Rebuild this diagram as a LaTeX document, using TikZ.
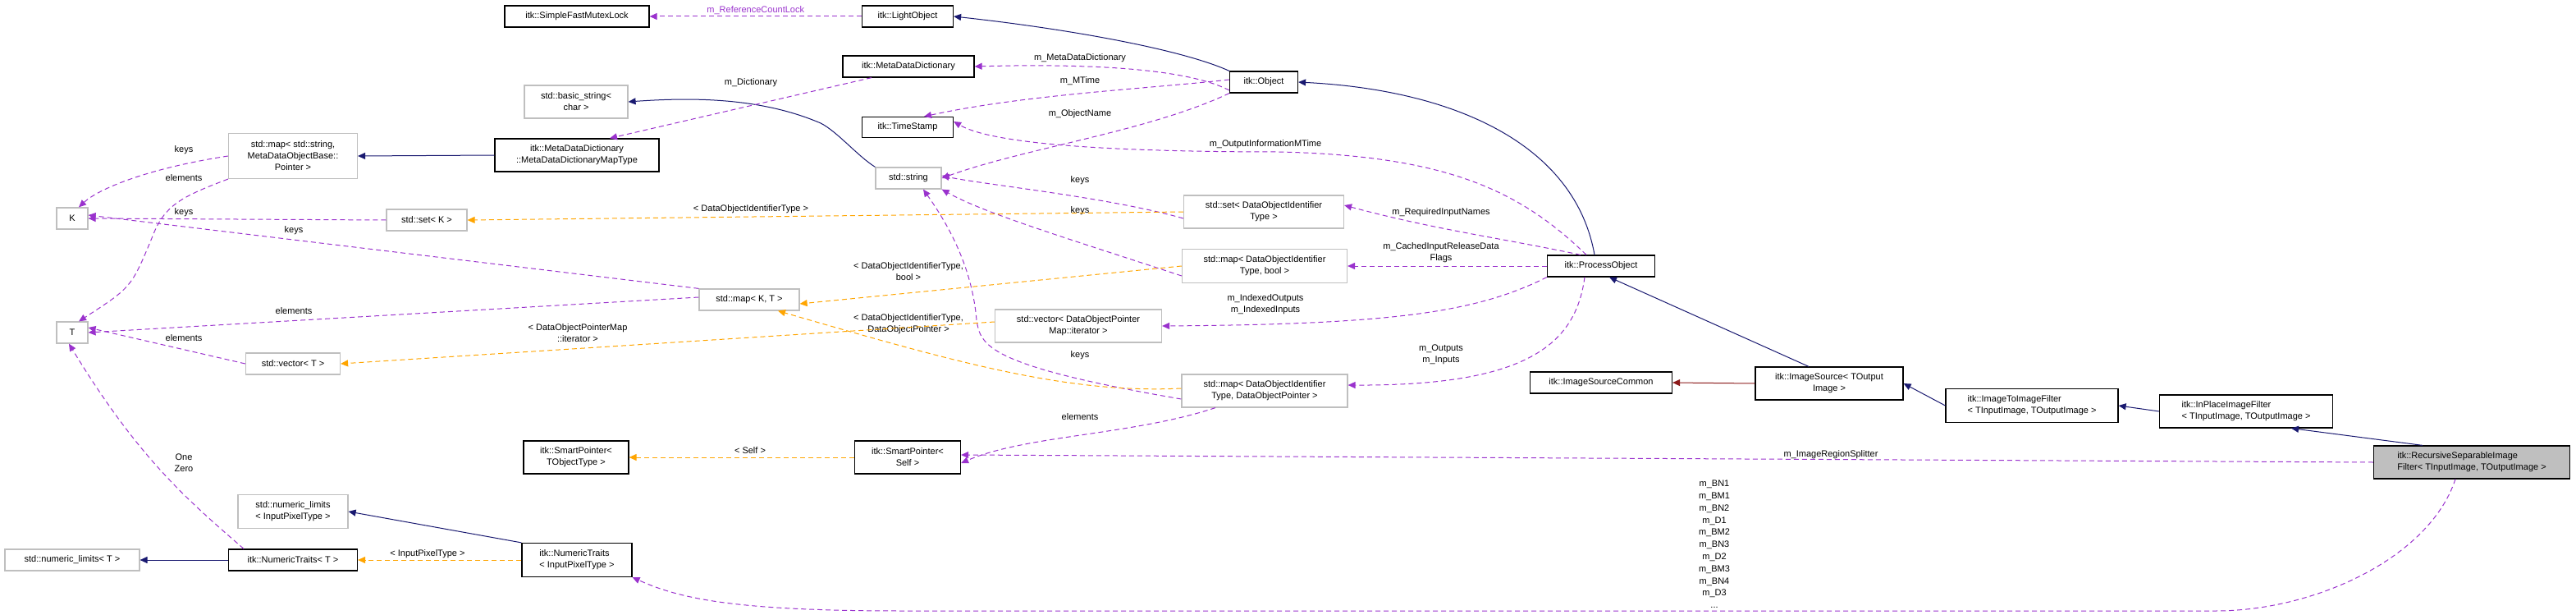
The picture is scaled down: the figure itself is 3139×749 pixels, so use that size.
\documentclass[tikz,border=0pt]{standalone}
\usepackage{fontspec}
\setmainfont{Liberation Sans}
\usetikzlibrary{arrows.meta}
\definecolor{pur}{HTML}{9A32CD}
\definecolor{org}{HTML}{FFA500}
\definecolor{mblue}{HTML}{191970}
\definecolor{fbrick}{HTML}{8B1A1A}
\definecolor{gbord}{HTML}{BFBFBF}
\begin{document}
\begin{tikzpicture}[x=1pt,y=-1pt,font=\fontsize{11}{14}\selectfont,
  box/.style={draw=black,line width=1.2pt,inner sep=0pt,align=center},
  gbox/.style={draw=gbord,line width=1.2pt,inner sep=0pt,align=center},
  lbl/.style={inner sep=0pt,align=center},
  tip/.style={-{Triangle[length=9pt,width=8pt]}},
  mem/.style={tip,pur,dashed,line width=1pt,dash pattern=on 6pt off 4pt},
  tmpl/.style={tip,org,dashed,line width=1pt,dash pattern=on 6pt off 4pt},
  inh/.style={tip,mblue,line width=1pt},
  prot/.style={tip,fbrick,line width=1pt}]
\useasboundingbox (0,0) rectangle (3139,749);
% nodes
\node[box,minimum width=176,minimum height=26] (sfml) at (703,20) {itk::SimpleFastMutexLock};
\node[box,minimum width=111,minimum height=26] (lo) at (1106,20) {itk::LightObject};
\node[box,minimum width=160,minimum height=26] (mdd) at (1107,81) {itk::MetaDataDictionary};
\node[gbox,minimum width=126,minimum height=40] (bs) at (702,124) {std::basic\_string\textless\\char \textgreater};
\node[box,minimum width=111,minimum height=25] (ts) at (1106,155) {itk::TimeStamp};
\node[box,minimum width=200,minimum height=40] (mddm) at (703,189) {itk::MetaDataDictionary\\::MetaDataDictionaryMapType};
\node[gbox,minimum width=157,minimum height=55] (ms) at (357,190) {std::map\textless{} std::string,\\MetaDataObjectBase::\\Pointer \textgreater};
\node[box,minimum width=83,minimum height=26] (obj) at (1540,100) {itk::Object};
\node[gbox,minimum width=80,minimum height=26] (str) at (1107,217) {std::string};
\node[gbox,minimum width=38,minimum height=26] (K) at (88,266) {K};
\node[gbox,minimum width=98,minimum height=26] (setK) at (520,268) {std::set\textless{} K \textgreater};
\node[gbox,minimum width=195,minimum height=40] (setD) at (1540,258) {std::set\textless{} DataObjectIdentifier\\Type \textgreater};
\node[gbox,minimum width=201,minimum height=41] (mapB) at (1541,324) {std::map\textless{} DataObjectIdentifier\\Type, bool \textgreater};
\node[box,minimum width=131,minimum height=26] (po) at (1951,324) {itk::ProcessObject};
\node[gbox,minimum width=122,minimum height=26] (mapKT) at (913,365) {std::map\textless{} K, T \textgreater};
\node[gbox,minimum width=203,minimum height=40] (vecD) at (1314,397) {std::vector\textless{} DataObjectPointer\\Map::iterator \textgreater};
\node[gbox,minimum width=38,minimum height=26] (T) at (88,405) {T};
\node[gbox,minimum width=115,minimum height=26] (vecT) at (357,443) {std::vector\textless{} T \textgreater};
\node[box,minimum width=173,minimum height=26] (isc) at (1951,466) {itk::ImageSourceCommon};
\node[gbox,minimum width=202,minimum height=40] (mapP) at (1541,476) {std::map\textless{} DataObjectIdentifier\\Type, DataObjectPointer \textgreater};
\node[box,minimum width=180,minimum height=40] (is) at (2229,467) {itk::ImageSource\textless{} TOutput\\Image \textgreater};
\node[box,minimum width=210,minimum height=41,align=left] (iti) at (2476,494) {itk::ImageToImageFilter\\\textless{} TInputImage, TOutputImage \textgreater};
\node[box,minimum width=211,minimum height=40,align=left] (ip) at (2737,501) {itk::InPlaceImageFilter\\\textless{} TInputImage, TOutputImage \textgreater};
\node[box,minimum width=129,minimum height=40] (sps) at (1106,557) {itk::SmartPointer\textless\\Self \textgreater};
\node[box,minimum width=128,minimum height=40] (spt) at (702,557) {itk::SmartPointer\textless\\TObjectType \textgreater};
\node[box,fill=gbord,minimum width=239,minimum height=40,align=left] (rec) at (3012,563) {itk::RecursiveSeparableImage\\Filter\textless{} TInputImage, TOutputImage \textgreater};
\node[gbox,minimum width=134,minimum height=41] (nlI) at (357,623) {std::numeric\_limits\\\textless{} InputPixelType \textgreater};
\node[box,minimum width=157,minimum height=26] (ntT) at (357,682) {itk::NumericTraits\textless{} T \textgreater};
\node[gbox,minimum width=164,minimum height=26] (nlT) at (88,682) {std::numeric\_limits\textless{} T \textgreater};
\node[box,minimum width=134,minimum height=41,align=left] (ntI) at (703,682) {itk::NumericTraits\\\textless{} InputPixelType \textgreater};
% inheritance
\draw[inh] (obj.north west) .. controls (1440,60) and (1300,35) .. (lo.east);
\draw[inh] ([xshift=-8]po.north) .. controls (1920,180) and (1780,110) .. (obj.east);
\draw[inh] ([xshift=-25]is.north) -- ([xshift=10]po.south);
\draw[inh] (iti.west) -- (is.east);
\draw[inh] (ip.west) -- (iti.east);
\draw[inh] ([xshift=-60]rec.north) -- ([xshift=55]ip.south);
\draw[inh] (str.north west) .. controls (1045,190) and (1020,160) .. (1000,150) .. controls (930,120) and (850,118) .. (bs.east);
\draw[inh] (mddm.west) -- (ms.east);
\draw[inh] (ntT.west) -- (nlT.east);
\draw[inh] (ntI.north west) -- (nlI.east);
\draw[prot] (is.west) -- (isc.east);
% members
\draw[mem] (lo.west) -- (sfml.east) node[lbl,midway,above=2pt] (l1) {m\_ReferenceCountLock};
\draw[mem] ([xshift=-45]mdd.south) -- ([xshift=40]mddm.north);
\node[lbl] (l2) at (915,101) {m\_Dictionary};
\draw[mem] (ms.west) .. controls (180,205) and (120,230) .. ([xshift=8]K.north);
\node[lbl] (l3) at (224,183) {keys};
\draw[mem] (ms.south west) .. controls (220,240) and (200,250) .. (185,290) .. controls (160,350) .. ([xshift=8]T.north);
\node[lbl] (l4) at (224,217) {elements};
\draw[mem] (setK.west) -- (K.east);
\node[lbl] (l5) at (224,259) {keys};
\draw[mem] (mapKT.north west) -- ([yshift=4]K.east);
\node[lbl] (l6) at (358,281) {keys};
\draw[mem] ([yshift=3]mapKT.west) -- (T.east);
\node[lbl] (l7) at (358,379) {elements};
\draw[mem] (vecT.west) -- ([yshift=6]T.east);
\node[lbl] (l8) at (224,412) {elements};
\draw[mem] ([yshift=-10]obj.west) .. controls (1440,80) and (1300,78) .. (mdd.east);
\node[lbl] (l9) at (1316,71) {m\_MetaDataDictionary};
\draw[mem] ([yshift=3]obj.west) .. controls (1400,108) and (1250,115) .. ([xshift=20]ts.north);
\node[lbl] (l10) at (1316,99) {m\_MTime};
\draw[mem] (obj.south west) .. controls (1400,160) and (1250,180) .. (str.east);
\node[lbl] (l11) at (1316,139) {m\_ObjectName};
\draw[mem] ([xshift=-18]po.north) .. controls (1850,230) and (1760,190) .. (1560,185) .. controls (1300,185) and (1200,170) .. ([yshift=7]ts.east);
\node[lbl] (l12) at (1542,176) {m\_OutputInformationMTime};
\draw[mem] ([xshift=-25]po.north) .. controls (1830,290) and (1750,280) .. ([yshift=8]setD.east);
\node[lbl] (l13) at (1756,259) {m\_RequiredInputNames};
\draw[mem] (po.west) -- (mapB.east);
\node[lbl] (l14) at (1756,308) {m\_CachedInputReleaseData\\Flags};
\draw[mem] (po.south west) .. controls (1800,380) and (1700,395) .. (vecD.east);
\node[lbl] (l15) at (1542,371) {m\_IndexedOutputs\\m\_IndexedInputs};
\draw[mem] ([xshift=-20]po.south) .. controls (1920,420) and (1860,470) .. ([yshift=7]mapP.east);
\node[lbl] (l16) at (1756,432) {m\_Outputs\\m\_Inputs};
\draw[mem] ([yshift=-8]setD.west) .. controls (1350,240) and (1200,225) .. ([yshift=3]str.east);
\node[lbl] (l17) at (1316,220) {keys};
\draw[mem] ([yshift=-12]mapB.west) .. controls (1300,290) and (1200,260) .. (str.south east);
\node[lbl] (l18) at (1316,257) {keys};
\draw[mem] ([yshift=-10]mapP.west) .. controls (1200,445) and (1195,420) .. (1190,390) .. controls (1185,330) and (1160,280) .. ([xshift=18]str.south);
\node[lbl] (l19) at (1316,433) {keys};
\draw[mem] ([xshift=-60]mapP.south) .. controls (1380,530) and (1250,530) .. ([yshift=-7]sps.east);
\node[lbl] (l20) at (1316,508) {elements};
\draw[mem] (rec.west) -- ([yshift=3]sps.east);
\node[lbl] (l21) at (2231,554) {m\_ImageRegionSplitter};
\draw[mem] ([xshift=-20]rec.south) .. controls (2960,680) and (2820,744) .. (2700,744) -- (1100,744) .. controls (900,744) and (830,730) .. (ntI.south east);
\node[lbl,font=\fontsize{11}{14.8}\selectfont] (l22) at (2089,663) {m\_BN1\\m\_BM1\\m\_BN2\\m\_D1\\m\_BM2\\m\_BN3\\m\_D2\\m\_BM3\\m\_BN4\\m\_D3\\...};
\draw[mem] ([xshift=-60]ntT.north) .. controls (230,610) and (170,560) .. ([xshift=-4]T.south);
\node[lbl] (l23) at (224,564) {One\\Zero};
% templates
\draw[tmpl] (setD.west) -- (setK.east);
\node[lbl] (t1) at (915,255) {\textless{} DataObjectIdentifierType \textgreater};
\draw[tmpl] (mapB.west) -- ([yshift=-5]mapKT.east);
\node[lbl] (t2) at (1107,331) {\textless{} DataObjectIdentifierType,\\bool \textgreater};
\draw[tmpl] ([yshift=3]mapP.west) .. controls (1300,480) and (1160,440) .. ([xshift=35]mapKT.south);
\node[lbl] (t3) at (1107,395) {\textless{} DataObjectIdentifierType,\\DataObjectPointer \textgreater};
\draw[tmpl] ([yshift=5]vecD.west) -- (vecT.east);
\node[lbl] (t4) at (704,406) {\textless{} DataObjectPointerMap\\::iterator \textgreater};
\draw[tmpl] (sps.west) -- (spt.east);
\node[lbl] (t5) at (914,549) {\textless{} Self \textgreater};
\draw[tmpl] (ntI.west |- ntT.east) -- (ntT.east);
\node[lbl] (t6) at (521,675) {\textless{} InputPixelType \textgreater};
\end{tikzpicture}
\end{document}
